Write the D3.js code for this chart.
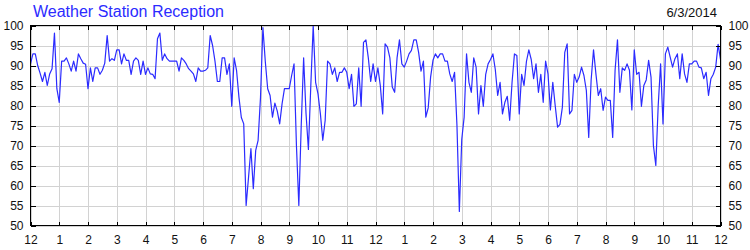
<!DOCTYPE html>
<html lang="en">
	<head>
		<meta charset="utf-8">
		<title>Weather Station Reception</title>
		<script type="text/javascript" src="https://d3js.org/d3.v7.min.js"></script>
		<style type="text/css">
			body {
				background-color: white;
				font-family: "Liberation Sans", Arial, sans-serif;
				margin: 0;
			}
			svg {
				display: block;
			}
		</style>
	</head>
	<body>
		<script type="text/javascript">
			//Chart text
			var title = "Weather Station Reception";
			var dateLabel = "6/3/2014";

			//Hour labels along the bottom, one per hour from midnight to midnight
			var hourLabels = ["12","1","2","3","4","5","6","7","8","9","10","11",
				"12","1","2","3","4","5","6","7","8","9","10","11","12"];

			//Reception percent ticks
			var yTicks = [50, 55, 60, 65, 70, 75, 80, 85, 90, 95, 100];

			//Minutes between readings
			var stepMinutes = 5;

			//Reception readings, one every 5 minutes (12 per row = one hour)
			var reception = [
				90.4, 92.9, 92.9, 90, 88.1, 86, 88.3, 85, 87.9, 89.2, 98.1, 84.2,
				80.8, 91.1, 91.1, 91.9, 90.4, 88.6, 91.1, 88.6, 92.9, 91.7, 90.6, 90.3,
				84.2, 89.4, 86, 89.4, 89.4, 87.8, 88.8, 90.6, 97.5, 91.1, 91.7, 91.3,
				93.9, 93.9, 90.4, 92.9, 91.3, 91.3, 87.8, 91.1, 91.9, 91.3, 87.8, 91.1,
				87.8, 89.4, 87.9, 87.8, 86.7, 96.7, 98.1, 91.3, 92.9, 91.7, 91.1, 91.1,
				91.1, 91.1, 88.6, 91.9, 91.3, 90.4, 89.2, 88.6, 87.9, 86, 89.4, 88.6,
				88.6, 88.8, 89.4, 97.5, 95, 91.1, 86, 86, 91.9, 91.9, 87.8, 90.4,
				79.8, 91.9, 88.8, 82.1, 77, 75.4, 55, 62, 69.2, 59.2, 68.8, 71.3,
				82, 99.5, 91, 84.2, 82.5, 77.1, 80.6, 78.6, 75.4, 80.4, 84.2, 84.2,
				84.2, 87.5, 90.4, 70, 55, 75, 91.9, 78, 69, 85, 100, 85.8,
				82.9, 77.9, 71.3, 76.3, 91.1, 90.4, 87.8, 89.4, 86, 88.3, 88.3, 89.4,
				88.3, 84.2, 87.8, 79.8, 80.4, 89.4, 79.8, 95.8, 96.4, 91.9, 86, 90.4,
				86, 89.4, 85, 77.9, 95.4, 94.6, 91.9, 84.6, 83.3, 91.9, 96.4, 90.4,
				89.6, 91.1, 92.9, 93.8, 96.4, 96.4, 93.3, 88.6, 91.1, 77.1, 79.4, 87.1,
				91.3, 92.9, 91.9, 92.9, 92.9, 91.1, 91.1, 87.9, 86, 88.3, 75, 53.5,
				71.5, 77.1, 92.9, 85.8, 83.3, 91.9, 89.6, 77.9, 85, 79.8, 87.8, 90.4,
				91.5, 92.9, 89, 82.5, 85.8, 77.9, 80.8, 82.3, 76.3, 85.8, 92.9, 92.5,
				77.9, 87.8, 85, 91, 93.9, 91.5, 86.7, 90.4, 83.3, 87.8, 80.8, 91.1,
				87.9, 78.9, 85.8, 80, 74.6, 75.3, 79.6, 93.3, 95.4, 77.9, 78.8, 87.8,
				85.8, 87.1, 89.6, 87.5, 83.8, 72, 86.3, 93.9, 87.9, 82.5, 84.2, 78.8,
				82.1, 81.3, 81.3, 72, 88.8, 96.4, 83.3, 89.4, 88.8, 90.4, 88.8, 78.9,
				93.9, 87.8, 88.3, 79.8, 85, 86.4, 91.3, 87.1, 70, 65, 80, 90.4,
				75.4, 92.9, 94.6, 92.1, 89.6, 91.7, 92.9, 86.7, 92.9, 87.9, 85.8, 90.4,
				90.4, 91.1, 91.1, 89.6, 89.4, 86.7, 88.3, 82.5, 86.7, 87.8, 89.6, 95.3,
				91.5
			];

			//Width and height
			var w = 750;
			var h = 250;
			var plotLeft = 30, plotRight = 720, plotTop = 25, plotBottom = 225;

			//Scales
			var x = d3.scaleLinear()
				.domain([0, hourLabels.length - 1])
				.range([plotLeft + 0.5, plotRight + 0.5]);
			var y = d3.scaleLinear()
				.domain([50, 100])
				.range([plotBottom + 0.5, plotTop + 0.5]);

			//Create SVG
			var svg = d3.select("body")
				.append("svg")
				.attr("width", w)
				.attr("height", h);

			var hours = d3.range(hourLabels.length);

			//Grid lines
			svg.append("g")
				.attr("class", "grid")
				.attr("transform", "translate(0," + (plotBottom + 0.5) + ")")
				.call(d3.axisBottom(x).tickValues(hours).tickSize(-(plotBottom - plotTop)).tickFormat(""));
			svg.append("g")
				.attr("class", "grid")
				.attr("transform", "translate(" + (plotLeft + 0.5) + ",0)")
				.call(d3.axisLeft(y).tickValues(yTicks).tickSize(-(plotRight - plotLeft)).tickFormat(""));
			svg.selectAll(".grid .domain").remove();
			svg.selectAll(".grid line")
				.attr("stroke", "#d2d2d2")
				.attr("shape-rendering", "crispEdges");

			//Reception line
			var line = d3.line()
				.x(function(d, i) { return x(i * stepMinutes / 60); })
				.y(function(d) { return y(d); });
			svg.append("path")
				.datum(reception)
				.attr("d", line)
				.attr("fill", "none")
				.attr("stroke", "#2b2bff")
				.attr("stroke-width", 1.2)
				.attr("stroke-linejoin", "round");

			//Frame
			svg.append("rect")
				.attr("x", plotLeft + 0.5)
				.attr("y", plotTop + 0.5)
				.attr("width", plotRight - plotLeft)
				.attr("height", plotBottom - plotTop)
				.attr("fill", "none")
				.attr("stroke", "black")
				.attr("shape-rendering", "crispEdges");

			//Axes with ticks pointing inward
			var xAxis = svg.append("g")
				.attr("transform", "translate(0," + (plotBottom + 0.5) + ")")
				.call(d3.axisBottom(x).tickValues(hours).tickSize(-4).tickPadding(10)
					.tickFormat(function(d) { return hourLabels[d]; }));
			var xTop = svg.append("g")
				.attr("transform", "translate(0," + (plotTop + 0.5) + ")")
				.call(d3.axisTop(x).tickValues(hours).tickSize(-4).tickFormat(""));
			var yLeft = svg.append("g")
				.attr("transform", "translate(" + (plotLeft + 0.5) + ",0)")
				.call(d3.axisLeft(y).tickValues(yTicks).tickSize(-5).tickPadding(7));
			var yRight = svg.append("g")
				.attr("transform", "translate(" + (plotRight + 0.5) + ",0)")
				.call(d3.axisRight(y).tickValues(yTicks).tickSize(-5).tickPadding(8));

			[xAxis, xTop, yLeft, yRight].forEach(function(g) {
				g.select(".domain").remove();
				g.selectAll("line").attr("stroke", "black").attr("shape-rendering", "crispEdges");
				g.selectAll("text")
					.attr("fill", "#111")
					.style("font-family", "'Liberation Sans', Arial, sans-serif")
					.style("font-size", "12px");
			});

			//Title and date
			svg.append("text")
				.attr("x", 33)
				.attr("y", 17)
				.attr("fill", "#2b2bff")
				.style("font-size", "16px")
				.text(title);
			svg.append("text")
				.attr("x", 717)
				.attr("y", 17)
				.attr("text-anchor", "end")
				.attr("fill", "#111")
				.style("font-size", "13px")
				.text(dateLabel);
		</script>
	</body>
</html>
